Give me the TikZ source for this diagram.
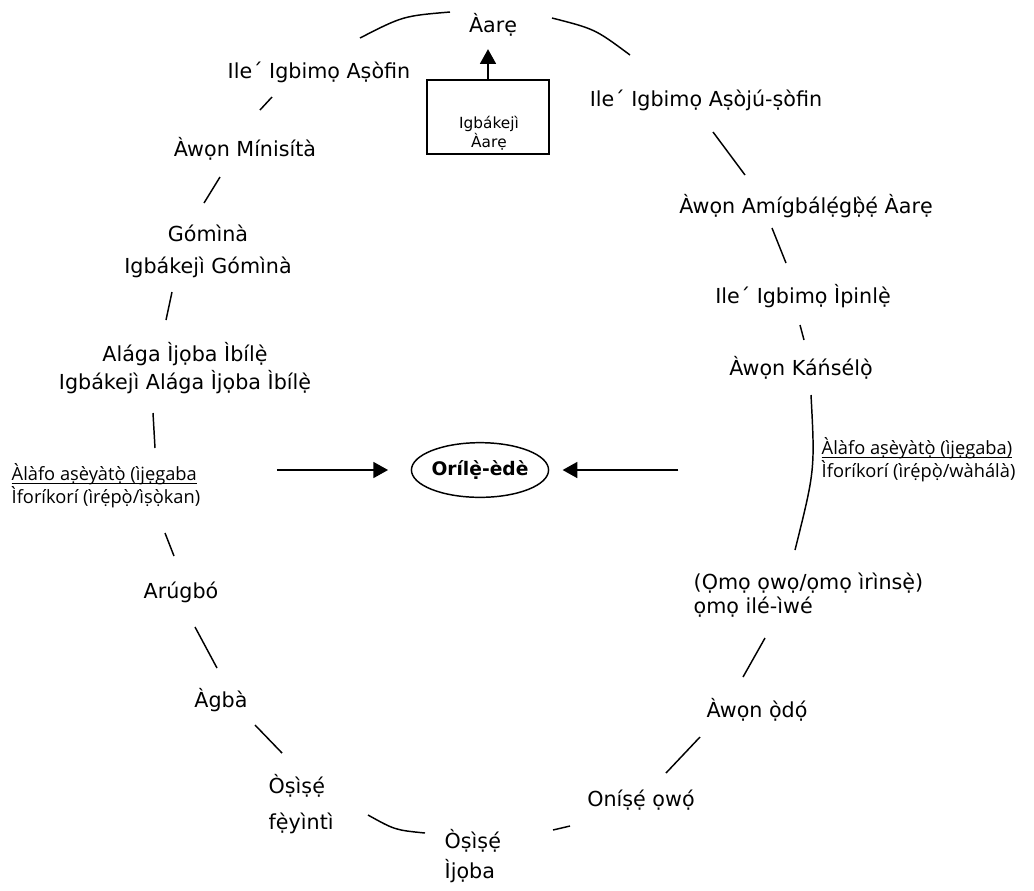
\documentclass[tikz,border=0pt]{standalone}
\usepackage{fontspec}
\setmainfont{DejaVu Sans}
\newfontfamily\notefont{Open Sans}
\usetikzlibrary{arrows.meta,shapes.geometric}
\newcommand{\undl}[1]{\setbox0=\hbox{#1}\rlap{\rule[-2.6pt]{\wd0}{0.9pt}}\box0}

\tikzset{x=0.75pt, y=-0.75pt,
  every node/.append style={font=\fontsize{15.5}{24}\selectfont},
  lbl/.style={align=center},
  lft/.style={align=left, anchor=west},
  note/.style={lft, font=\notefont\fontsize{13.7}{15.5}\selectfont},
  ring/.style={line width=1.1pt},
  arr/.style={line width=1.1pt, -{Triangle[length=11pt,width=12pt]}}}

\begin{document}
\begin{tikzpicture}
\useasboundingbox (0,0) rectangle (1034,890);

% the ring of labels
\node (aare) at (493,25) {Àarẹ};
\node[draw, line width=1.1pt, minimum width=91.5pt, minimum height=55.5pt] (vp) at (488,117) {};
\node[lbl, font=\fontsize{11.5}{13}\selectfont] (vplbl) at (489,133) {Igbákejì\\Àarẹ};
\node (aso) at (319,72) {Ile´ Igbimọ Aṣòfin};
\node (min) at (245,149) {Àwọn Mínisítà};
\node[lbl] (gov) at (208,251) {Gómìnà\\Igbákejì Gómìnà};
\node[lbl, font=\fontsize{15.5}{21}\selectfont] (lg) at (185,368) {Alága Ìjọba Ìbílẹ̀\\Igbákejì Alága Ìjọba Ìbílẹ̀};
\node[note] (gapl) at (7,486) {\undl{Àlàfo aṣèyàtọ̀ (ìjẹgaba}\\Ìforíkorí (ìrẹ́pọ̀/ìṣọ̀kan)};
\node (arugbo) at (181,592) {Arúgbó};
\node (agba) at (221,700) {Àgbà};
\node[lft, font=\fontsize{15.5}{27}\selectfont] (fey) at (264,804) {Òṣìṣẹ́\\fẹ̀yìntì};
\node[lft, font=\fontsize{15.5}{22}\selectfont] (ijoba) at (440,856) {Òṣìṣẹ́\\Ìjọba};
\node (onise) at (641,800) {Oníṣẹ́ ọwọ́};
\node (odo) at (757,710) {Àwọn ọ̀dọ́};
\node[lft, font=\fontsize{15.5}{18}\selectfont] (omo) at (689,595) {(Ọmọ ọwọ/ọmọ ìrìnsẹ̀)\\ọmọ ilé-ìwé};
\node[note] (gapr) at (817,460) {\undl{Àlàfo aṣèyàtọ̀ (ìjẹgaba)}\\Ìforíkorí (ìrẹ́pọ̀/wàhálà)};
\node (kan) at (801,368) {Àwọn Káńsélọ̀};
\node (ipin) at (803,296) {Ile´ Igbimọ Ìpinlẹ̀};
\node (amig) at (806,206) {Àwọn Amígbálẹ́gḅ̀ẹ́ Àarẹ};
\node (asoju) at (706,100) {Ile´ Igbimọ Aṣòjú-ṣòfin};
\node[draw, ellipse, line width=1.1pt, minimum width=97.5pt, minimum height=41pt, inner sep=0pt,
      font=\bfseries\fontsize{14}{17}\selectfont] (nation) at (480,470) {Orílẹ̀-èdè};

% broken circle
\foreach \xa/\ya/\xb/\yb in {272/97/260/110, 220/177/204/203, 172/292/166/320,
    153/413/155/448, 165/533/174/556, 195/627/217/668, 255/725/282/753,
    553/830/570/826, 666/773/700/737, 743/677/765/638, 800/325/804/340,
    772/228/786/263, 713/132/745/175}
  \draw[ring] (\xa,\ya) -- (\xb,\yb);
\draw[ring] (360,38) .. controls (403,16) .. (450,12);
\draw[ring] (552,18) .. controls (595,29) .. (630,55);
\draw[ring] (811,395) .. controls (815,470) .. (795,550);
\draw[ring] (368,815) .. controls (395,830) .. (425,833);

% arrows
\draw[arr, shorten >=6pt] (vp.north) -- (vp.north |- aare.south);
\draw[arr, shorten <=54pt, shorten >=17pt] (gapl.east |- nation.west) -- (nation.west);
\draw[arr, shorten <=104pt, shorten >=10pt] (gapr.west |- nation.east) -- (nation.east);
\end{tikzpicture}
\end{document}
